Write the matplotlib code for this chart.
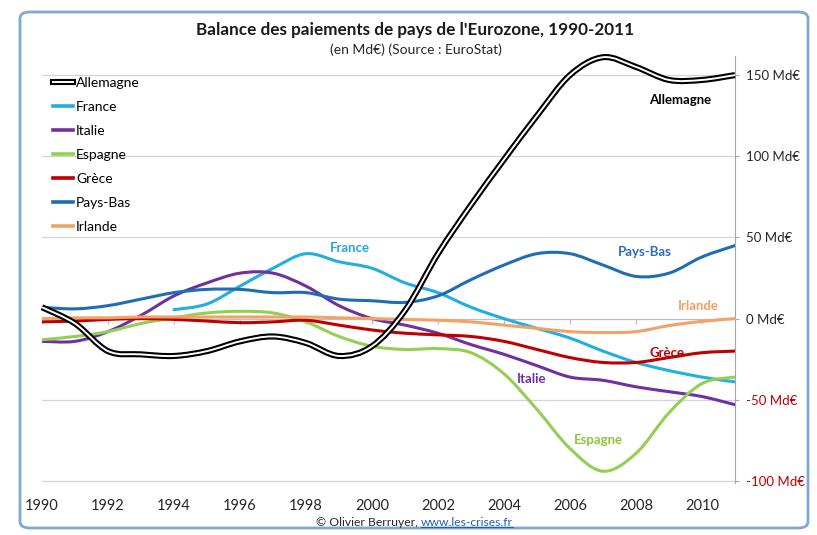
import numpy as np
import matplotlib
matplotlib.use("Agg")
import matplotlib.pyplot as plt
from matplotlib.path import Path
from matplotlib.patches import PathPatch, FancyBboxPatch
from matplotlib.lines import Line2D

# valeurs (Md€)
annees = list(range(1990, 2012))
allemagne = [7, -3, -20, -22, -23, -20, -14, -11, -15, -23, -17, 5,
             40, 70, 98, 125, 150, 161, 155, 147, 147, 150]
annees_france = list(range(1994, 2012))
france = [5.5, 9, 20, 31, 40, 35, 31, 22, 16, 7, 0, -6, -12, -20, -27, -32, -36, -39]
italie = [-14, -14, -8, 2, 14, 22, 28, 28, 20, 8, 0, -4,
          -9, -16, -22, -29, -36, -38, -42, -45, -48, -53]
espagne = [-13, -11, -8, -3, 0.5, 3.5, 4.5, 3.5, -2, -11, -17, -19,
           -18.5, -21, -34, -56, -80, -94, -83, -58, -40, -36]
grece = [-2, -1.5, -0.5, 0, -0.5, -1.5, -2.5, -2, -1, -4, -7, -9,
         -10, -11, -14, -19, -24, -27, -27, -24, -21, -20]
pays_bas = [7, 6, 8, 12, 16, 18, 18, 16, 16, 12, 11, 10,
            14, 24, 33, 40, 40, 33, 26, 28, 38, 45]
irlande = [0, 0.5, 0.5, 1, 1, 1, 1, 1, 1, 0.5, 0, -0.5,
           -1, -2, -4, -6, -8, -8.6, -8, -4.3, -1.7, 0]

graduations = [-100, -50, 0, 50, 100, 150]
annees_affichees = list(range(1990, 2011, 2))

plt.rcParams['font.family'] = ['Lato', 'DejaVu Sans']


def courbe(x, y):
    # courbe lissée façon Excel (Bézier passant par les points)
    pts = np.column_stack([x, y]).astype(float)
    n = len(pts)
    verts = [pts[0]]
    codes = [Path.MOVETO]
    for i in range(n - 1):
        p0 = pts[i - 1] if i > 0 else pts[i]
        p1 = pts[i]
        p2 = pts[i + 1]
        p3 = pts[i + 2] if i + 2 < n else pts[i + 1]
        verts += [p1 + (p2 - p0) / 6, p2 - (p3 - p1) / 6, p2]
        codes += [Path.CURVE4] * 3
    return Path(verts, codes)


fig = plt.figure(figsize=(8.17, 5.35), dpi=100, facecolor='white')

# cadre arrondi
cadre = FancyBboxPatch((20 / 817, 1 - 528 / 535), 788 / 817, 516 / 535,
                       boxstyle="round,pad=0,rounding_size=0.012",
                       transform=fig.transFigure, facecolor='none',
                       edgecolor='#7fa8d8', linewidth=2, zorder=-1)
fig.patches.append(cadre)

ax = fig.add_axes([42 / 817, 1 - 482.6 / 535, (735 - 42) / 817, (482.6 - 55.6) / 535])
ax.set_facecolor('none')
ax.set_xlim(1990, 2011)
ax.set_ylim(-101, 162)

series = [
    (annees_france, france, '#22aee0', 'France'),
    (annees, italie, '#7030a0', 'Italie'),
    (annees, espagne, '#92cf52', 'Espagne'),
    (annees, grece, '#c00000', 'Grèce'),
    (annees, pays_bas, '#1f6db3', 'Pays-Bas'),
    (annees, irlande, '#f2a266', 'Irlande'),
]
for x, y, c, nom in series:
    ax.add_patch(PathPatch(courbe(x, y), fill=False, edgecolor=c, lw=2.2,
                           capstyle='round', joinstyle='round', zorder=3))

chemin = courbe(annees, allemagne)
ax.add_patch(PathPatch(chemin, fill=False, edgecolor='black', lw=4.4, zorder=4, clip_on=False))
ax.add_patch(PathPatch(chemin, fill=False, edgecolor='white', lw=1.4, zorder=5, clip_on=False))

# axe vertical à droite
for s in ['left', 'top']:
    ax.spines[s].set_visible(False)
ax.spines['right'].set_color('#a6a6a6')
ax.spines['bottom'].set_position(('data', 0))
ax.spines['bottom'].set_color('#bfbfbf')
ax.yaxis.tick_right()
ax.set_yticks(graduations)
ax.set_yticklabels([f"{v} Md€" for v in graduations])
for lbl, v in zip(ax.get_yticklabels(), graduations):
    lbl.set_color('#c00000' if v < 0 else '#262626')
ax.tick_params(axis='y', length=3, color='#a6a6a6', pad=5, labelsize=9.5)
ax.grid(axis='y', color='#d4d4d4', lw=0.9)
ax.set_axisbelow(True)

ax.set_xticks(annees_affichees)
ax.tick_params(axis='x', length=3.5, width=1, color='#bfbfbf', labelbottom=False)
sec = ax.secondary_xaxis('bottom')
sec.spines['bottom'].set_visible(False)
sec.set_xticks(annees_affichees)
sec.tick_params(length=0, pad=12, labelsize=10.5, labelcolor='#262626')

# légende
poignees = [(Line2D([], [], color='black', lw=4.4), Line2D([], [], color='white', lw=1.4))]
noms = ['Allemagne']
for x, y, c, nom in series:
    poignees.append(Line2D([], [], color=c, lw=2.6))
    noms.append(nom)
ax.legend(poignees, noms, loc='upper left', bbox_to_anchor=(42 / 817, 1 - 66 / 535),
          bbox_transform=fig.transFigure, frameon=False, fontsize=10,
          handlelength=1.45, handletextpad=0.2, labelspacing=0.86, borderpad=0.3)

# étiquettes des courbes
etiquettes = [
    ('Allemagne', 2009.33, 134.7, 'black'),
    ('France', 1999.33, 43.7, '#23a9d9'),
    ('Pays-Bas', 2008.27, 41.2, '#2a6db0'),
    ('Irlande', 2009.88, 8, '#eba267'),
    ('Grèce', 2008.94, -20.9, '#c00000'),
    ('Italie', 2004.85, -36.9, '#7030a0'),
    ('Espagne', 2006.85, -75, '#8cc63f'),
]
for txt, xx, yy, c in etiquettes:
    ax.text(xx, yy, txt, color=c, fontsize=9.5, fontweight='bold',
            ha='center', va='center', zorder=6)

# titres
fig.text(415 / 817, 1 - 30 / 535, "Balance des paiements de pays de l'Eurozone, 1990-2011",
         ha='center', va='center', fontsize=12.3, fontweight='bold', color='#1a1a1a')
fig.text(416 / 817, 1 - 50 / 535, "(en Md€) (Source : EuroStat)",
         ha='center', va='center', fontsize=10, color='#262626')

# pied de page
renderer = fig.canvas.get_renderer()
t1 = fig.text(316 / 817, 1 - 522 / 535, "© Olivier Berruyer, ", ha='left', va='center',
              fontsize=8.7, color='#262626')
bb = t1.get_window_extent(renderer)
x_url = bb.x1 / fig.bbox.width
t2 = fig.text(x_url, 1 - 522 / 535, "www.les-crises.fr", ha='left', va='center',
              fontsize=8.7, color='#1f5fbf')
bb2 = t2.get_window_extent(renderer)
y_sous = (bb2.y0 + 1) / fig.bbox.height
fig.add_artist(Line2D([bb2.x0 / fig.bbox.width, bb2.x1 / fig.bbox.width], [y_sous, y_sous],
                      transform=fig.transFigure, color='#1f5fbf', lw=0.8))

fig.savefig('out.png', dpi=100, facecolor='white')
